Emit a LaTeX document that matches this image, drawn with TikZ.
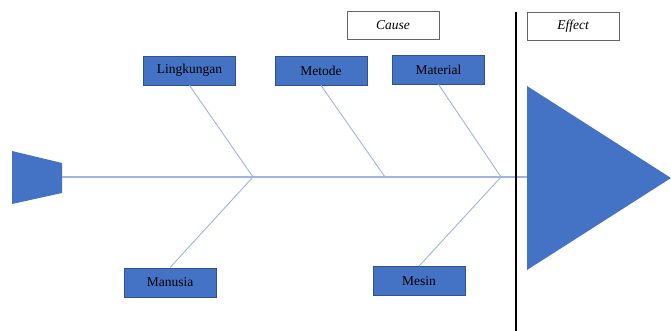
\documentclass[tikz,border=0pt]{standalone}
\usepackage{fontspec}
\setmainfont{Liberation Serif}
\definecolor{boxfill}{HTML}{4472C4}
\definecolor{boxline}{HTML}{2F528F}
\definecolor{bone}{HTML}{9DB5E3}
\begin{document}
\begin{tikzpicture}[x=1pt,y=-1pt,
  catbox/.style={draw=boxline,fill=boxfill,line width=0.8pt,minimum width=92pt,minimum height=29pt,inner sep=0pt,font=\fontsize{13.5}{15}\selectfont,text=black},
  labbox/.style={draw=black!60,fill=white,line width=0.6pt,minimum width=92pt,minimum height=28pt,inner sep=0pt,font=\itshape\fontsize{13.5}{15}\selectfont},
  boneline/.style={draw=bone,line width=0.9pt}]
\useasboundingbox (0,0) rectangle (671,331);
% head and tail
\fill[boxfill] (12,151) -- (62,163) -- (62,193) -- (12,204) -- cycle;
\coordinate (tail) at (62,177);
\coordinate (head) at (527,177);
\fill[boxfill] (527,86) -- (671,178) -- (527,270) -- cycle;
% spine
\draw[bone,line width=1.6pt] (tail) -- (head);
% joints
\coordinate (j1) at (253,177);
\coordinate (j2) at (385,177);
\coordinate (j3) at (501,177);
% boxes
\node[catbox] (ling) at (189.5,70.5) {Lingkungan};
\node[catbox] (met) at (321,70.5) {Metode};
\node[catbox] (mat) at (438.5,69.5) {Material};
\node[catbox] (man) at (170,282.5) {Manusia};
\node[catbox] (mes) at (419,281) {Mesin};
\node[labbox] (cause) at (393,25) {Cause};
\node[labbox] (effect) at (573,26) {Effect};
% bones
\draw[boneline] (ling.south) -- (j1);
\draw[boneline] (man.north) -- (j1);
\draw[boneline] (met.south) -- (j2);
\draw[boneline] (mat.south) -- (j3);
\draw[boneline] (mes.north) -- (j3);
% divider
\coordinate (dtop) at (516,12);
\coordinate (dbot) at (516,331);
\draw[black,line width=2pt] (dtop) -- (dbot);
\end{tikzpicture}
\end{document}
